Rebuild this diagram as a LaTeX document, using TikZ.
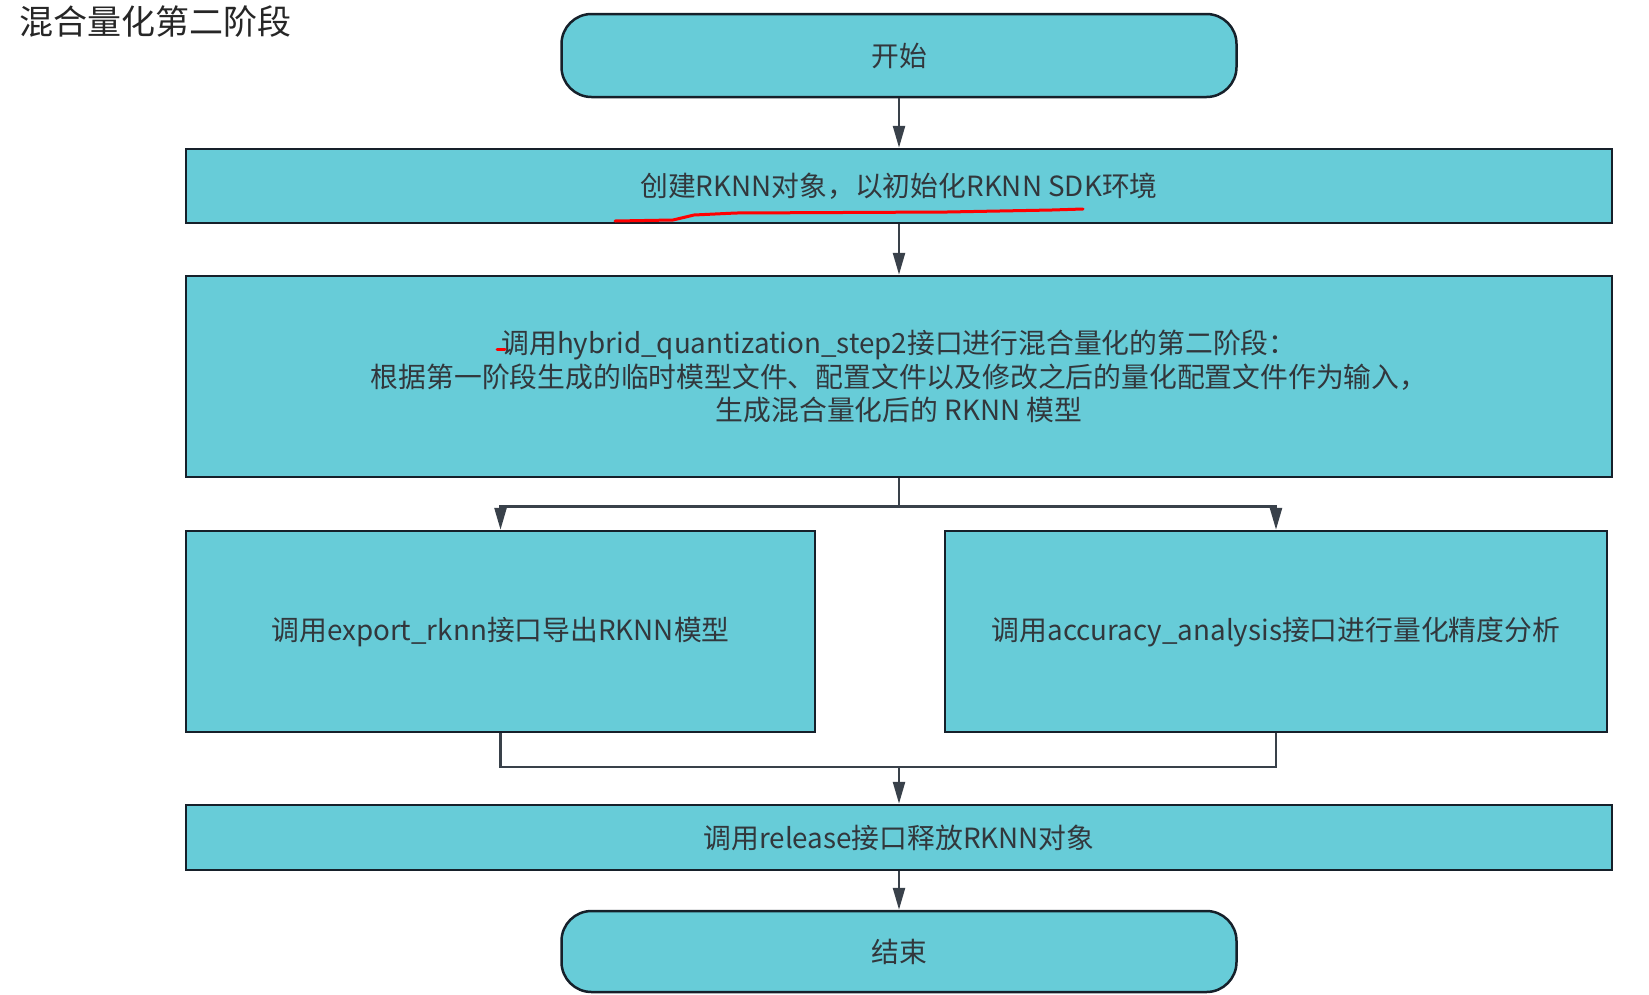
\documentclass[tikz,border=0pt]{standalone}
\usepackage{fontspec}
\setmainfont{Noto Sans CJK SC}
\usetikzlibrary{
  calc, % For coordinate calculations
  arrows.meta % For arrow tips
}
\definecolor{boxfill}{RGB}{103,204,216}
\definecolor{boxline}{RGB}{22,32,42}
\definecolor{textgray}{RGB}{50,55,60}

\begin{document}
\begin{tikzpicture}[
      x=1pt, y=-1pt, % Pixel units, y points down
      >={Triangle[length=22pt,width=12pt]}, % Default arrow tip
      box/.style={draw=boxline, line width=2.5pt, fill=boxfill, text=textgray,
        font=\fontsize{27.8}{33.5}\selectfont, align=center, inner sep=0pt}, % Step boxes
      terminal/.style={box, rounded corners=30pt}, % Start and end
      flow/.style={draw=boxline!85, line width=2.5pt}, % Connectors
      redpen/.style={red, line width=3pt, line cap=round, line join=round}, % Hand marks
    ]
    \useasboundingbox (0,0) rectangle (1649,994);
    % Größen
    \def\mitte{899}
    \def\breit{1426}
    % Titel
    \node[anchor=west, font=\fontsize{34}{38}\selectfont, text=black!85] (titel) at (16,22) {混合量化第二阶段};
    % Knoten
    \node[terminal, minimum width=675, minimum height=83] (start) at (\mitte,55.5) {开始};
    \node[box, minimum width=\breit, minimum height=74] (create) at (\mitte,186) {创建RKNN对象，以初始化RKNN SDK环境};
    \node[box, minimum width=\breit, minimum height=201] (hybrid) at (\mitte,376.5)
      {调用hybrid\_quantization\_step2接口进行混合量化的第二阶段：\\
       根据第一阶段生成的临时模型文件、配置文件以及修改之后的量化配置文件作为输入，\\
       生成混合量化后的 RKNN 模型};
    \node[box, minimum width=629, minimum height=201] (export) at (500.5,631.5) {调用export\_rknn接口导出RKNN模型};
    \node[box, minimum width=662, minimum height=201] (accuracy) at (1276,631.5) {调用accuracy\_analysis接口进行量化精度分析};
    \node[box, minimum width=\breit, minimum height=65] (release) at (\mitte,837.5) {调用release接口释放RKNN对象};
    \node[terminal, minimum width=675, minimum height=81] (ende) at (\mitte,951.5) {结束};
    % Verbindungen
    \draw[flow, ->] (start) -- (create);
    \draw[flow, ->] (create) -- (hybrid);
    \coordinate (split) at ($(hybrid.south)+(0,28)$);
    \draw[flow, ->] (hybrid.south) -- (split) -| (export.north);
    \draw[flow, ->] (split) -| (accuracy.north);
    \coordinate (merge) at ($(release.north)+(0,-37)$);
    \draw[flow] (export.south) |- (merge);
    \draw[flow] (accuracy.south) |- (merge);
    \draw[flow, ->] (merge) -- (release);
    \draw[flow, ->] (release) -- (ende);
    % Rote Markierungen
    \draw[redpen] (615,221) -- (673,220) -- (694,215) -- (736,213) -- (947,212) -- (1052,210) -- (1083,209);
    \draw[redpen] (497,349) -- (505,349);
  \end{tikzpicture}
\end{document}
